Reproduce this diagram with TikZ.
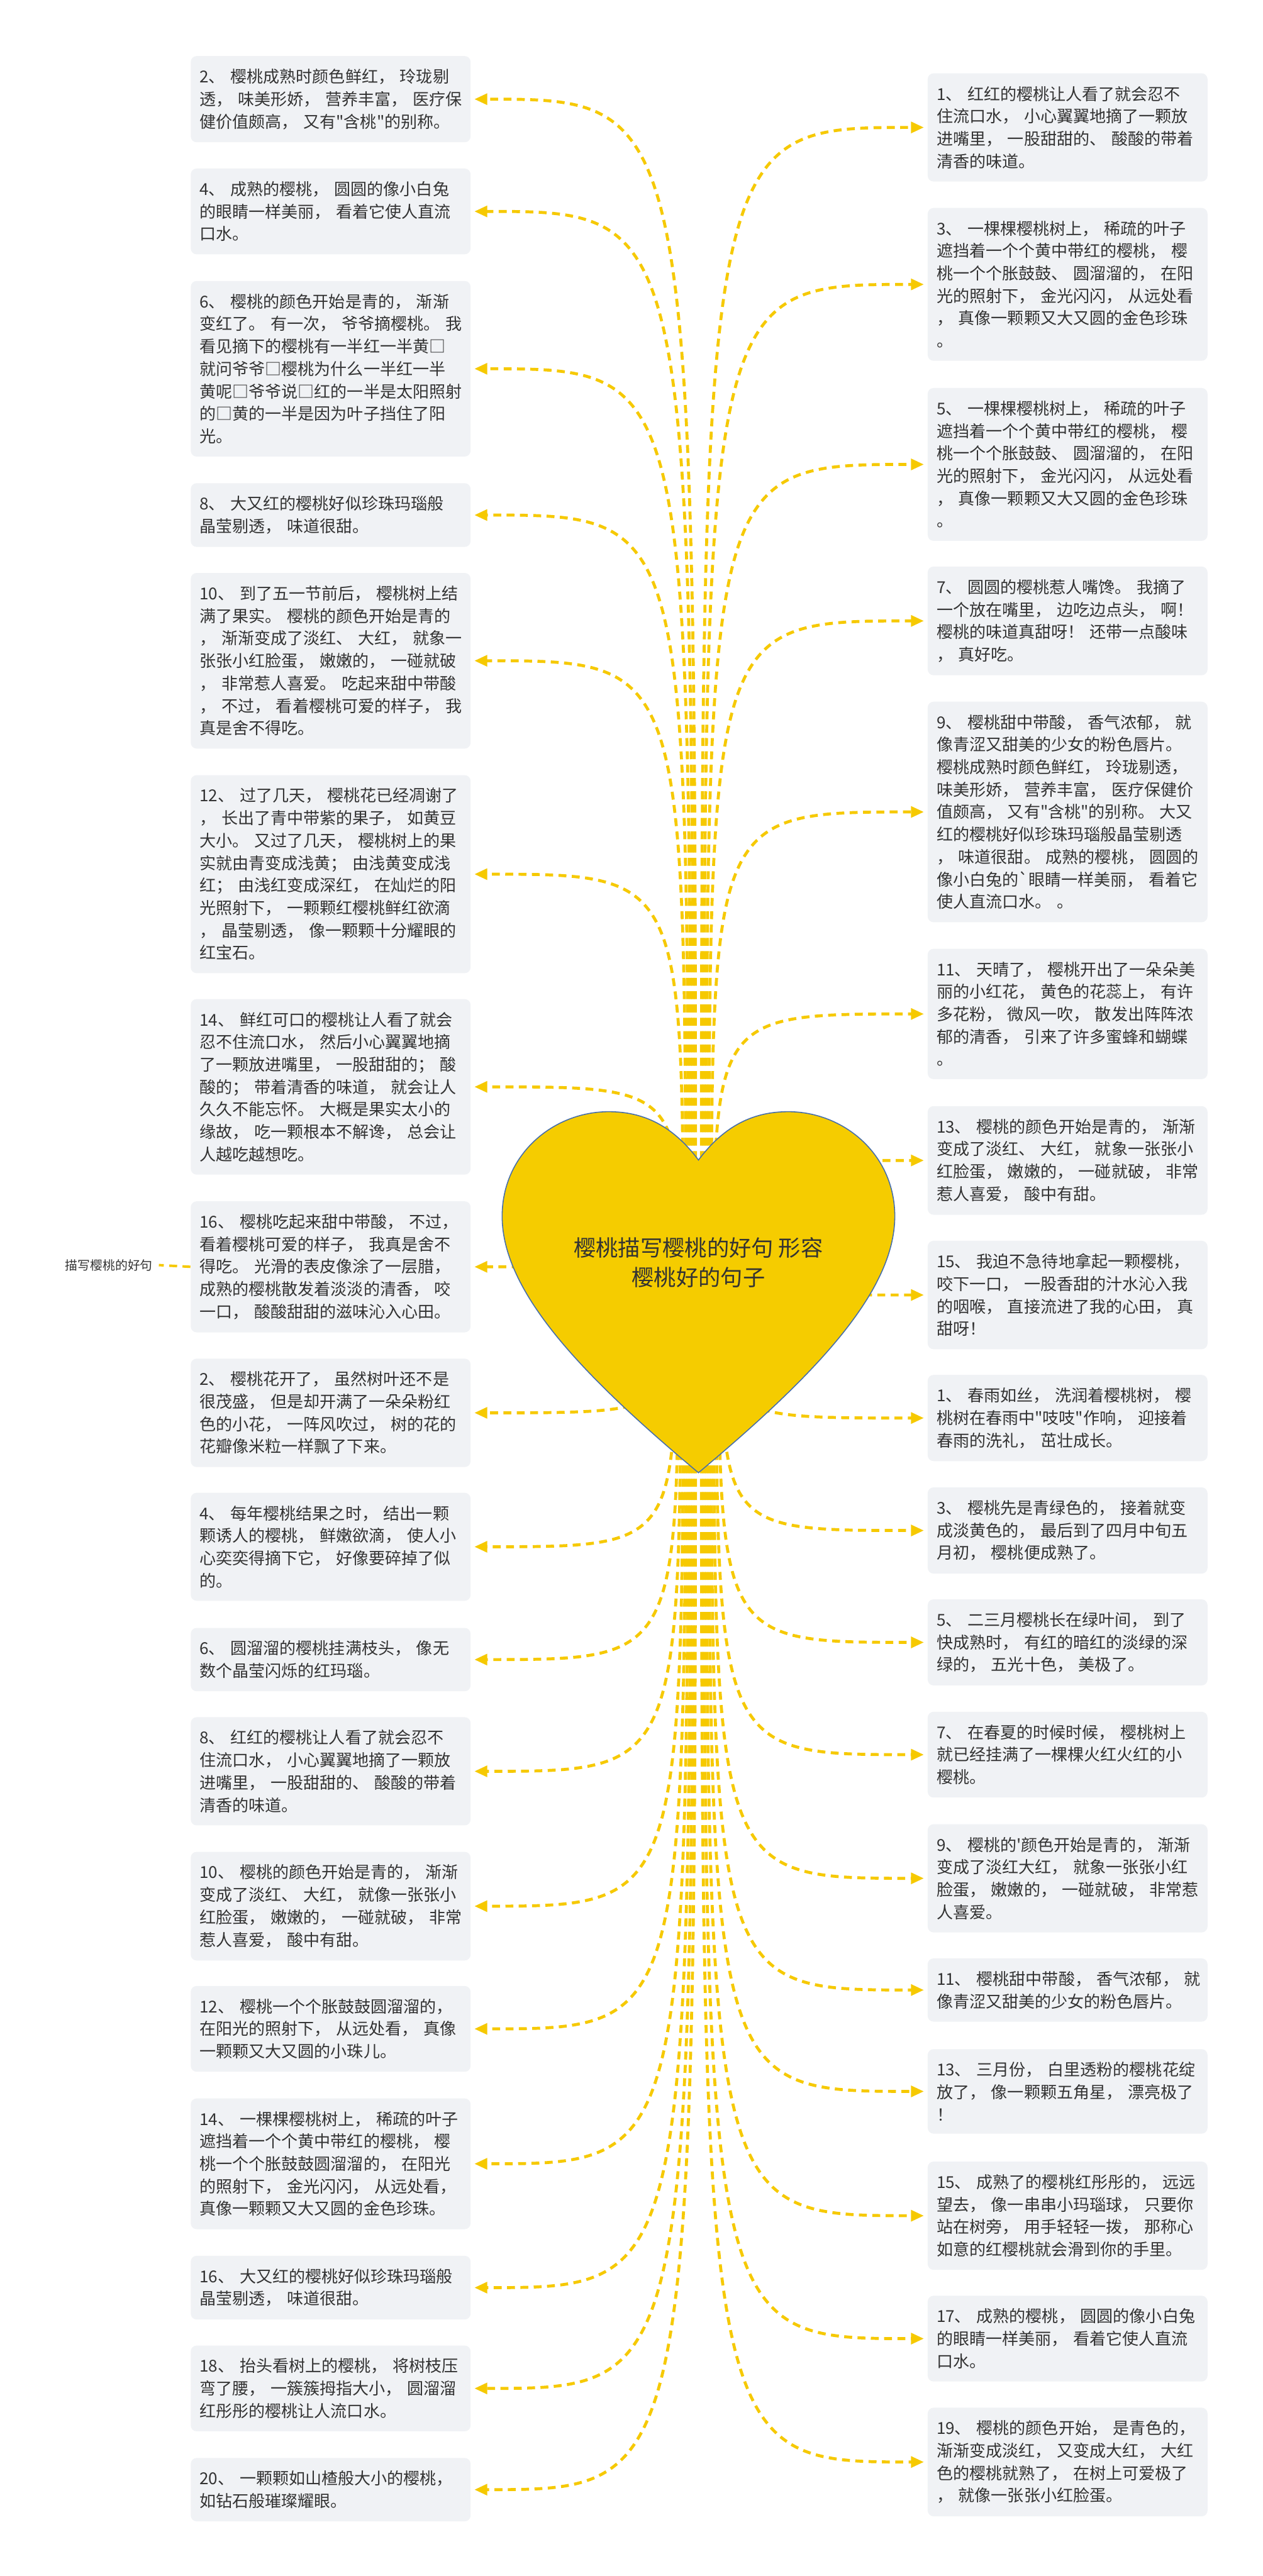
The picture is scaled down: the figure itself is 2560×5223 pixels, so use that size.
\documentclass[tikz,border=0pt]{standalone}
\usepackage{fontspec}
\newfontfamily\cjk{Noto Sans CJK SC}
\usetikzlibrary{arrows.meta,calc}
\definecolor{gold}{RGB}{245,204,0}
\definecolor{dashy}{RGB}{246,201,0}
\definecolor{boxbg}{RGB}{240,242,245}
\definecolor{txt}{RGB}{51,51,51}
\definecolor{heartline}{RGB}{70,110,170}
\tikzset{
  tbox/.style={fill=boxbg, rounded corners=0.12cm, text=txt,
    font=\cjk\fontsize{9.45pt}{12.95pt}\selectfont, text width=5.31cm,
    inner xsep=0.18cm, inner ysep=0.26cm, align=left, anchor=north west},
  conn/.style={draw=dashy, line width=0.06cm, dash pattern=on 0.16cm off 0.11cm,
    -{Triangle[length=0.26cm,width=0.22cm]}, shorten >=0.07cm},
  heartshape/.style={fill=gold, draw=heartline, line width=0.02cm},
  titletext/.style={text=txt, font=\cjk\fontsize{12.8pt}{17pt}\selectfont, align=center},
  labtext/.style={text=txt, font=\cjk\fontsize{7.2pt}{9pt}\selectfont}
}
\begin{document}
\begin{tikzpicture}[x=0.01cm,y=-0.01cm]
\fill[white] (0,0) rectangle (2560,5223);
\useasboundingbox (0,0) rectangle (2560,5223);
\coordinate (hc) at (1416,2620);

% left boxes
\node[tbox] (L1) at (386,113) {2、~樱桃成熟时颜色鲜红，~玲珑剔\\透，~味美形娇，~营养丰富，~医疗保\\健价值颇高，~又有"含桃"的别称。};
\node[tbox] (L2) at (386,341) {4、~成熟的樱桃，~圆圆的像小白兔\\的眼睛一样美丽，~看着它使人直流\\口水。};
\node[tbox] (L3) at (386,569) {6、~樱桃的颜色开始是青的，~渐渐\\变红了。~有一次，~爷爷摘樱桃。~我\\看见摘下的樱桃有一半红一半黄□\\就问爷爷□樱桃为什么一半红一半\\黄呢□爷爷说□红的一半是太阳照射\\的□黄的一半是因为叶子挡住了阳\\光。};
\node[tbox] (L4) at (386,979) {8、~大又红的樱桃好似珍珠玛瑙般\\晶莹剔透，~味道很甜。};
\node[tbox] (L5) at (386,1161) {10、~到了五一节前后，~樱桃树上结\\满了果实。~樱桃的颜色开始是青的\\，~渐渐变成了淡红、~大红，~就象一\\张张小红脸蛋，~嫩嫩的，~一碰就破\\，~非常惹人喜爱。~吃起来甜中带酸\\，~不过，~看着樱桃可爱的样子，~我\\真是舍不得吃。};
\node[tbox] (L6) at (386,1571) {12、~过了几天，~樱桃花已经凋谢了\\，~长出了青中带紫的果子，~如黄豆\\大小。~又过了几天，~樱桃树上的果\\实就由青变成浅黄；~由浅黄变成浅\\红；~由浅红变成深红，~在灿烂的阳\\光照射下，~一颗颗红樱桃鲜红欲滴\\，~晶莹剔透，~像一颗颗十分耀眼的\\红宝石。};
\node[tbox] (L7) at (386,2025) {14、~鲜红可口的樱桃让人看了就会\\忍不住流口水，~然后小心翼翼地摘\\了一颗放进嘴里，~一股甜甜的；~酸\\酸的；~带着清香的味道，~就会让人\\久久不能忘怀。~大概是果实太小的\\缘故，~吃一颗根本不解谗，~总会让\\人越吃越想吃。};
\node[tbox] (L8) at (386,2435) {16、~樱桃吃起来甜中带酸，~不过，\\看着樱桃可爱的样子，~我真是舍不\\得吃。~光滑的表皮像涂了一层腊，\\成熟的樱桃散发着淡淡的清香，~咬\\一口，~酸酸甜甜的滋味沁入心田。};
\node[tbox] (L9) at (386,2754) {2、~樱桃花开了，~虽然树叶还不是\\很茂盛，~但是却开满了一朵朵粉红\\色的小花，~一阵风吹过，~树的花的\\花瓣像米粒一样飘了下来。};
\node[tbox] (L10) at (386,3026) {4、~每年樱桃结果之时，~结出一颗\\颗诱人的樱桃，~鲜嫩欲滴，~使人小\\心奕奕得摘下它，~好像要碎掉了似\\的。};
\node[tbox] (L11) at (386,3300) {6、~圆溜溜的樱桃挂满枝头，~像无\\数个晶莹闪烁的红玛瑙。};
\node[tbox] (L12) at (386,3481) {8、~红红的樱桃让人看了就会忍不\\住流口水，~小心翼翼地摘了一颗放\\进嘴里，~一股甜甜的、~酸酸的带着\\清香的味道。};
\node[tbox] (L13) at (386,3754) {10、~樱桃的颜色开始是青的，~渐渐\\变成了淡红、~大红，~就像一张张小\\红脸蛋，~嫩嫩的，~一碰就破，~非常\\惹人喜爱，~酸中有甜。};
\node[tbox] (L14) at (386,4026) {12、~樱桃一个个胀鼓鼓圆溜溜的，\\在阳光的照射下，~从远处看，~真像\\一颗颗又大又圆的小珠儿。};
\node[tbox] (L15) at (386,4254) {14、~一棵棵樱桃树上，~稀疏的叶子\\遮挡着一个个黄中带红的樱桃，~樱\\桃一个个胀鼓鼓圆溜溜的，~在阳光\\的照射下，~金光闪闪，~从远处看，\\真像一颗颗又大又圆的金色珍珠。};
\node[tbox] (L16) at (386,4573) {16、~大又红的樱桃好似珍珠玛瑙般\\晶莹剔透，~味道很甜。};
\node[tbox] (L17) at (386,4755) {18、~抬头看树上的樱桃，~将树枝压\\弯了腰，~一簇簇拇指大小，~圆溜溜\\红彤彤的樱桃让人流口水。};
\node[tbox] (L18) at (386,4983) {20、~一颗颗如山楂般大小的樱桃，\\如钻石般璀璨耀眼。};

% right boxes
\node[tbox] (R1) at (1880,148) {1、~红红的樱桃让人看了就会忍不\\住流口水，~小心翼翼地摘了一颗放\\进嘴里，~一股甜甜的、~酸酸的带着\\清香的味道。};
\node[tbox] (R2) at (1880,421) {3、~一棵棵樱桃树上，~稀疏的叶子\\遮挡着一个个黄中带红的樱桃，~樱\\桃一个个胀鼓鼓、~圆溜溜的，~在阳\\光的照射下，~金光闪闪，~从远处看\\，~真像一颗颗又大又圆的金色珍珠\\。};
\node[tbox] (R3) at (1880,786) {5、~一棵棵樱桃树上，~稀疏的叶子\\遮挡着一个个黄中带红的樱桃，~樱\\桃一个个胀鼓鼓、~圆溜溜的，~在阳\\光的照射下，~金光闪闪，~从远处看\\，~真像一颗颗又大又圆的金色珍珠\\。};
\node[tbox] (R4) at (1880,1148) {7、~圆圆的樱桃惹人嘴馋。~我摘了\\一个放在嘴里，~边吃边点头，~啊！\\樱桃的味道真甜呀！~还带一点酸味\\，~真好吃。};
\node[tbox] (R5) at (1880,1422) {9、~樱桃甜中带酸，~香气浓郁，~就\\像青涩又甜美的少女的粉色唇片。\\樱桃成熟时颜色鲜红，~玲珑剔透，\\味美形娇，~营养丰富，~医疗保健价\\值颇高，~又有"含桃"的别称。~大又\\红的樱桃好似珍珠玛瑙般晶莹剔透\\，~味道很甜。~成熟的樱桃，~圆圆的\\像小白兔的`眼睛一样美丽，~看着它\\使人直流口水。~。};
\node[tbox] (R6) at (1880,1923) {11、~天晴了，~樱桃开出了一朵朵美\\丽的小红花，~黄色的花蕊上，~有许\\多花粉，~微风一吹，~散发出阵阵浓\\郁的清香，~引来了许多蜜蜂和蝴蝶\\。};
\node[tbox] (R7) at (1880,2242) {13、~樱桃的颜色开始是青的，~渐渐\\变成了淡红、~大红，~就象一张张小\\红脸蛋，~嫩嫩的，~一碰就破，~非常\\惹人喜爱，~酸中有甜。};
\node[tbox] (R8) at (1880,2515) {15、~我迫不急待地拿起一颗樱桃，\\咬下一口，~一股香甜的汁水沁入我\\的咽喉，~直接流进了我的心田，~真\\甜呀！};
\node[tbox] (R9) at (1880,2787) {1、~春雨如丝，~洗润着樱桃树，~樱\\桃树在春雨中"吱吱"作响，~迎接着\\春雨的洗礼，~茁壮成长。};
\node[tbox] (R10) at (1880,3015) {3、~樱桃先是青绿色的，~接着就变\\成淡黄色的，~最后到了四月中旬五\\月初，~樱桃便成熟了。};
\node[tbox] (R11) at (1880,3242) {5、~二三月樱桃长在绿叶间，~到了\\快成熟时，~有红的暗红的淡绿的深\\绿的，~五光十色，~美极了。};
\node[tbox] (R12) at (1880,3470) {7、~在春夏的时候时候，~樱桃树上\\就已经挂满了一棵棵火红火红的小\\樱桃。};
\node[tbox] (R13) at (1880,3698) {9、~樱桃的'颜色开始是青的，~渐渐\\变成了淡红大红，~就象一张张小红\\脸蛋，~嫩嫩的，~一碰就破，~非常惹\\人喜爱。};
\node[tbox] (R14) at (1880,3970) {11、~樱桃甜中带酸，~香气浓郁，~就\\像青涩又甜美的少女的粉色唇片。};
\node[tbox] (R15) at (1880,4154) {13、~三月份，~白里透粉的樱桃花绽\\放了，~像一颗颗五角星，~漂亮极了\\！};
\node[tbox] (R16) at (1880,4382) {15、~成熟了的樱桃红彤彤的，~远远\\望去，~像一串串小玛瑙球，~只要你\\站在树旁，~用手轻轻一拨，~那称心\\如意的红樱桃就会滑到你的手里。};
\node[tbox] (R17) at (1880,4654) {17、~成熟的樱桃，~圆圆的像小白兔\\的眼睛一样美丽，~看着它使人直流\\口水。};
\node[tbox] (R18) at (1880,4881) {19、~樱桃的颜色开始，~是青色的，\\渐渐变成淡红，~又变成大红，~大红\\色的樱桃就熟了，~在树上可爱极了\\，~就像一张张小红脸蛋。};

% side label
\node[labtext] (lab) at (221,2565) {描写樱桃的好句};
\draw[draw=dashy, line width=0.05cm, dash pattern=on 0.16cm off 0.11cm] (L8.west) -- (lab.east);

% connectors
\foreach \n/\d in {L1/-6,L2/-11,L3/-16,L4/-21,L5/-26,L6/-31,L7/-36,L8/-40,
  L9/-51,L10/-46,L11/-41,L12/-36,L13/-31,L14/-26,L15/-21,L16/-16,L17/-11,L18/-6}{
  \coordinate (s\n) at ($(hc)+(\d,0)$);
  \draw[conn] (s\n) .. controls (s\n |- \n.east) .. (\n.east);
}
\foreach \n/\d in {R1/6,R2/11,R3/16,R4/21,R5/26,R6/31,R7/36,R8/40,
  R9/51,R10/46,R11/41,R12/36,R13/31,R14/26,R15/21,R16/16,R17/11,R18/6}{
  \coordinate (s\n) at ($(hc)+(\d,0)$);
  \draw[conn] (s\n) .. controls (s\n |- \n.west) .. (\n.west);
}

% heart
\path[heartshape] (1416,2352) .. controls (1470,2280) and (1530,2254) .. (1598,2254)
  .. controls (1710,2254) and (1814,2340) .. (1814,2466)
  .. controls (1814,2620) and (1650,2790) .. (1416,2986)
  .. controls (1182,2790) and (1018,2620) .. (1018,2466)
  .. controls (1018,2340) and (1122,2254) .. (1234,2254)
  .. controls (1302,2254) and (1362,2280) .. (1416,2352) -- cycle;
\node[titletext] (title) at (1416,2560) {樱桃描写樱桃的好句 形容\\樱桃好的句子};
\end{tikzpicture}
\end{document}
